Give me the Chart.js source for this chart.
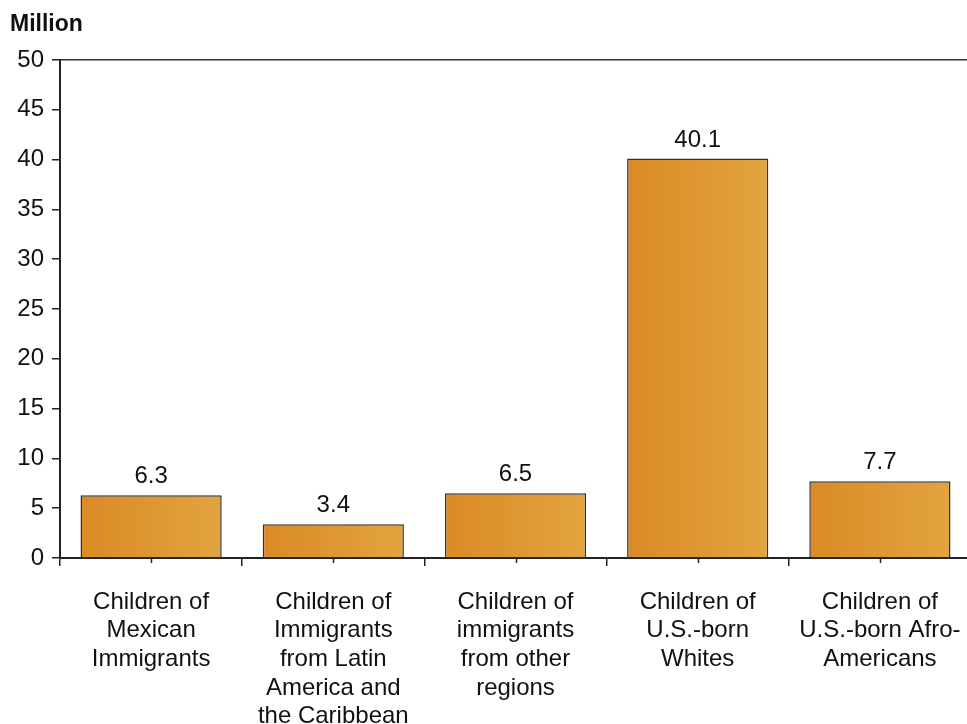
<!DOCTYPE html>
<html>
<head>
<meta charset="utf-8">
<script src="https://cdn.jsdelivr.net/npm/chart.js@4"></script>
<style>
  html, body { margin: 0; padding: 0; background: #fff; overflow: hidden; }
  #wrap { width: 972px; height: 724px; position: relative; }
</style>
</head>
<body>
<div id="wrap"><canvas id="c"></canvas></div>
<script>
const categories = [
  ["Children of", "Mexican", "Immigrants"],
  ["Children of", "Immigrants", "from Latin", "America and", "the Caribbean"],
  ["Children of", "immigrants", "from other", "regions"],
  ["Children of", "U.S.-born", "Whites"],
  ["Children of", "U.S.-born Afro-", "Americans"]
];
const values = [6.3, 3.4, 6.5, 40.1, 7.7];
const yTicks = [0, 5, 10, 15, 20, 25, 30, 35, 40, 45, 50];
const unitLabel = "Million";

const FONT = "'Liberation Sans', Arial, Helvetica, sans-serif";

function barFill(context) {
  const chart = context.chart;
  if (!chart.chartArea || !chart.scales.x) return '#DD9630';
  const xs = chart.scales.x;
  const cx = xs.getPixelForValue(context.dataIndex);
  const half = 72;
  const g = chart.ctx.createLinearGradient(cx - half, 0, cx + half, 0);
  g.addColorStop(0, '#DA8A25');
  g.addColorStop(1, '#E2A43F');
  return g;
}

const extras = {
  id: 'extras',
  afterDraw(chart) {
    const ctx = chart.ctx;
    const xs = chart.scales.x;
    ctx.save();
    // short center ticks on the x axis
    ctx.strokeStyle = '#222';
    ctx.lineWidth = 1.5;
    for (let i = 0; i < values.length; i++) {
      const x = Math.round(xs.getPixelForValue(i)) + 0.5;
      ctx.beginPath();
      ctx.moveTo(x, xs.top);
      ctx.lineTo(x, xs.top + 5);
      ctx.stroke();
    }
    // value labels
    ctx.fillStyle = '#111';
    ctx.font = '24px ' + FONT;
    ctx.textAlign = 'center';
    ctx.textBaseline = 'alphabetic';
    const meta = chart.getDatasetMeta(0);
    meta.data.forEach((bar, i) => {
      ctx.fillText(values[i].toFixed(1), bar.x, bar.y - 12);
    });
    // unit label
    ctx.font = 'bold 23px ' + FONT;
    ctx.textAlign = 'left';
    ctx.fillText(unitLabel, 10, 31);
    ctx.restore();
  }
};

new Chart(document.getElementById('c'), {
  type: 'bar',
  data: {
    labels: categories,
    datasets: [{
      data: values,
      backgroundColor: barFill,
      borderColor: '#333',
      borderWidth: 1.5,
      borderSkipped: 'bottom',
      barPercentage: 0.775,
      categoryPercentage: 1.0
    }]
  },
  options: {
    responsive: true,
    maintainAspectRatio: false,
    animation: false,
    layout: { padding: { top: 60, right: 1, left: 0, bottom: 0 } },
    plugins: {
      legend: { display: false },
      tooltip: { enabled: false }
    },
    scales: {
      x: {
        offset: true,
        grid: {
          offset: true,
          drawOnChartArea: false,
          drawTicks: true,
          tickLength: 8,
          color: '#222',
          lineWidth: 1.5
        },
        border: { display: true, color: '#222', width: 2 },
        ticks: {
          color: '#111',
          font: { family: FONT, size: 24, lineHeight: 1.19 },
          padding: 22,
          maxRotation: 0,
          autoSkip: false
        },
        afterFit(scale) {
          scale.height = 724 - 558;
          scale.paddingLeft = 0;
          scale.paddingRight = 0;
        }
      },
      y: {
        min: 0,
        max: 50,
        afterBuildTicks(scale) { scale.ticks = yTicks.map(v => ({ value: v })); },
        grid: {
          drawTicks: true,
          tickLength: 8,
          tickColor: '#222',
          color: (c) => (c.tick && c.tick.value === 50) ? '#333' : 'rgba(0,0,0,0)',
          lineWidth: 1.5
        },
        border: { display: true, color: '#222', width: 2 },
        ticks: {
          color: '#111',
          font: { family: FONT, size: 24 },
          padding: 8
        },
        afterFit(scale) {
          scale.width = 60;
          scale.paddingTop = 0;
          scale.paddingBottom = 0;
        }
      }
    }
  },
  plugins: [extras]
});
</script>
</body>
</html>
